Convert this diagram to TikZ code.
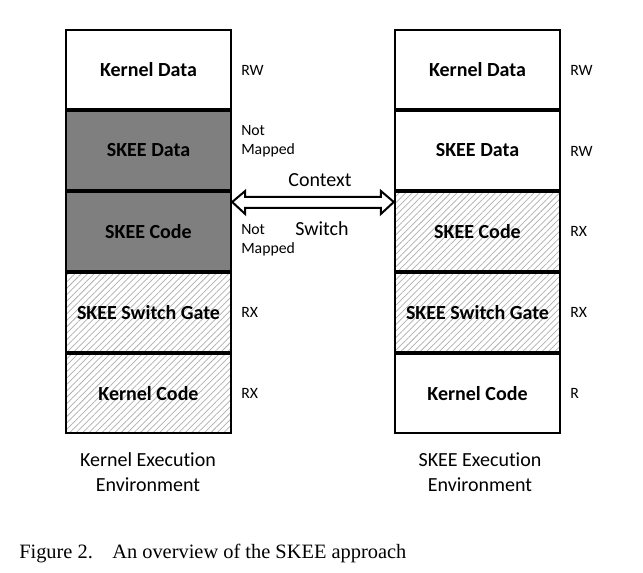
\documentclass[tikz,border=0pt]{standalone}
\usepackage{fontspec}
\setmainfont{Liberation Serif}
\newfontfamily\calibri[Ligatures=NoCommon]{Carlito}
\usetikzlibrary{patterns.meta,calc}
\definecolor{darkcell}{RGB}{127,127,127}
\definecolor{hatchgray}{RGB}{175,175,175}

\tikzset{
	cell/.style={draw, line width=1.5pt, minimum width=124pt, minimum height=59.25pt, inner sep=0pt,
		font=\calibri\fontsize{15}{18}\selectfont\bfseries},
	hatched/.style={pattern={Lines[angle=45,distance=3.4pt,line width=0.55pt]}, pattern color=hatchgray},
	dark/.style={fill=darkcell},
	perm/.style={anchor=west, inner sep=0.75pt, align=left, font=\calibri\fontsize{11.8}{14.25}\selectfont},
	envlabel/.style={align=center, inner sep=0.75pt, font=\calibri\fontsize{15}{18.75}\selectfont}
}

\begin{document}
\begin{tikzpicture}[x=0.75pt,y=0.75pt,yscale=-1,xscale=1]
	% Set diagram size 643 x 573
	\useasboundingbox (0,0) rectangle (643,573);

	% Left stack: kernel execution environment
	\node[cell] (lkd) at (148.5,69.5) {Kernel Data};
	\node[cell, dark] (lsd) at (148.5,150.5) {SKEE Data};
	\node[cell, dark] (lsc) at (148.5,231.5) {SKEE Code};
	\node[cell, hatched] (lsg) at (148.5,312.5) {SKEE Switch Gate};
	\node[cell, hatched] (lkc) at (148.5,393.5) {Kernel Code};

	% Right stack: SKEE execution environment
	\node[cell] (rkd) at (477.5,69.5) {Kernel Data};
	\node[cell] (rsd) at (477.5,150.5) {SKEE Data};
	\node[cell, hatched] (rsc) at (477.5,231.5) {SKEE Code};
	\node[cell, hatched] (rsg) at (477.5,312.5) {SKEE Switch Gate};
	\node[cell] (rkc) at (477.5,393.5) {Kernel Code};

	% Access rights next to each region
	\node[perm] at (240,70) {RW};
	\node[perm] at (240,141) {Not\\Mapped};
	\node[perm] at (240,240) {Not\\Mapped};
	\node[perm] at (240,312) {RX};
	\node[perm] at (240,393) {RX};
	\node[perm] at (569,70) {RW};
	\node[perm] at (569,151) {RW};
	\node[perm] at (569,231) {RX};
	\node[perm] at (569,312) {RX};
	\node[perm] at (569,393) {R};

	% Context switch arrow between the two stacks (hollow, two heads)
	\coordinate (ltip) at ($(lsc.north east)+(0,11)$);
	\coordinate (rtip) at ($(rsc.north west)+(0,11)$);
	\draw[line width=1.5pt, fill=white, line join=miter]
		(ltip) -- ++(13,-11) -- ++(0,6) -- ($(rtip)+(-13,-5)$) -- ++(0,-6)
		-- (rtip) -- ++(-13,12) -- ++(0,-6) -- ($(ltip)+(13,6)$) -- ++(0,6) -- cycle;
	\node[envlabel] (ctx) at (320,180) {Context};
	\node[envlabel] (swt) at (322,229) {Switch};

	% Environment names
	\node[envlabel, anchor=north] (lenv) at (148,451) {Kernel Execution\\Environment};
	\node[envlabel, anchor=north] (renv) at (480,451) {SKEE Execution\\Environment};

	% Caption
	\node[anchor=base west, inner sep=0pt, font=\fontsize{15.3}{18}\selectfont] (cap) at (19,558)
		{Figure 2.\hspace{0.95em}An overview of the SKEE approach};
\end{tikzpicture}
\end{document}
